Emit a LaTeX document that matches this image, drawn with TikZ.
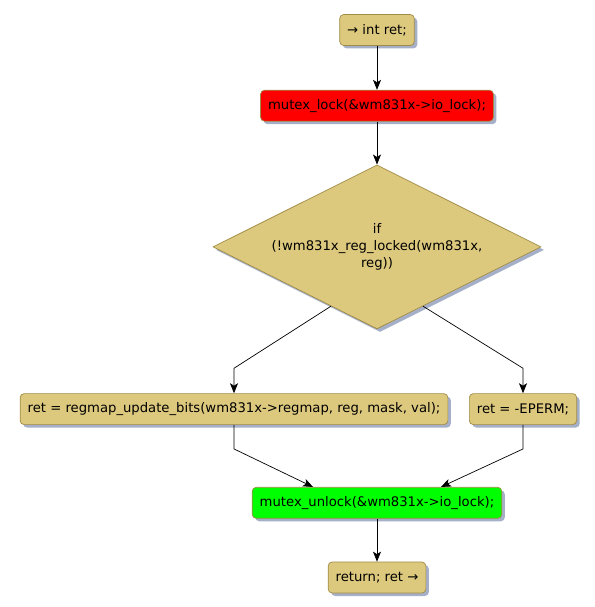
\documentclass[tikz,border=0pt]{standalone}
\usepackage{fontspec}
\setmainfont{DejaVu Sans}
\usepackage{tikz}
\usetikzlibrary{positioning, arrows.meta, shapes.geometric, shadows, calc}
\definecolor{actfill}{RGB}{221,201,126}
\definecolor{actline}{RGB}{160,140,70}
\definecolor{shade}{RGB}{165,175,200}

\begin{document}
\begin{tikzpicture}[
  x=1pt, y=-1pt,
  font=\fontsize{13.2}{17}\selectfont,
  act/.style={rectangle, rounded corners=4pt, draw=actline, fill=actfill, line width=0.7pt,
    minimum height=31pt, inner xsep=7.5pt,
    drop shadow={shadow xshift=3pt, shadow yshift=-3pt, fill=shade, opacity=1}},
  lockbox/.style={act, fill=red},
  unlockbox/.style={act, fill=green},
  cond/.style={diamond, aspect=2, draw=actline, fill=actfill, line width=0.7pt, inner sep=0pt,
    minimum width=328pt, minimum height=164pt, align=center,
    drop shadow={shadow xshift=3pt, shadow yshift=-3pt, fill=shade, opacity=1}},
  arr/.style={-{Stealth[length=10pt, width=8pt, inset=2.5pt]}, line width=0.7pt}
]
\useasboundingbox (0,0) rectangle (594,607);
% ----- main column -----
\node[act] (decl) at (377,30) {→ int ret;};
\node[lockbox, below=44pt of decl] (lock) {mutex\_lock(\&wm831x->io\_lock);};
\node[cond, below=43pt of lock] (test) {if\\(!wm831x\_reg\_locked(wm831x,\\reg))};
% ----- branches -----
\node[act, below=64pt of test, xshift=-143pt] (upd) {ret = regmap\_update\_bits(wm831x->regmap, reg, mask, val);};
\node[act, below=64pt of test, xshift=146pt] (perm) {ret = -EPERM;};
\node[unlockbox, below=62pt of upd.south -| test.south] (unlock) {mutex\_unlock(\&wm831x->io\_lock);};
\node[act, below=43pt of unlock] (ret) {return; ret →};
% ----- bends -----
\coordinate (tl) at ($(test.west)!0.72!(test.south)$);
\coordinate (tr) at ($(test.east)!0.72!(test.south)$);
\path (upd.north) ++(0,-25) coordinate (bl);
\path (perm.north) ++(0,-25) coordinate (br);
\path (upd.south) ++(0,24) coordinate (ul);
\path (perm.south) ++(0,24) coordinate (ur);
\coordinate (ml) at ($(unlock.north)+(-64,0)$);
\coordinate (mr) at ($(unlock.north)+(64,0)$);
\draw[arr] (decl) -- (lock);
\draw[arr] (lock) -- (test);
\draw[arr] (tl) -- (bl) -- (upd.north);
\draw[arr] (tr) -- (br) -- (perm.north);
\draw[arr] (upd.south) -- (ul) -- (ml);
\draw[arr] (perm.south) -- (ur) -- (mr);
\draw[arr] (unlock) -- (ret);
\end{tikzpicture}
\end{document}
